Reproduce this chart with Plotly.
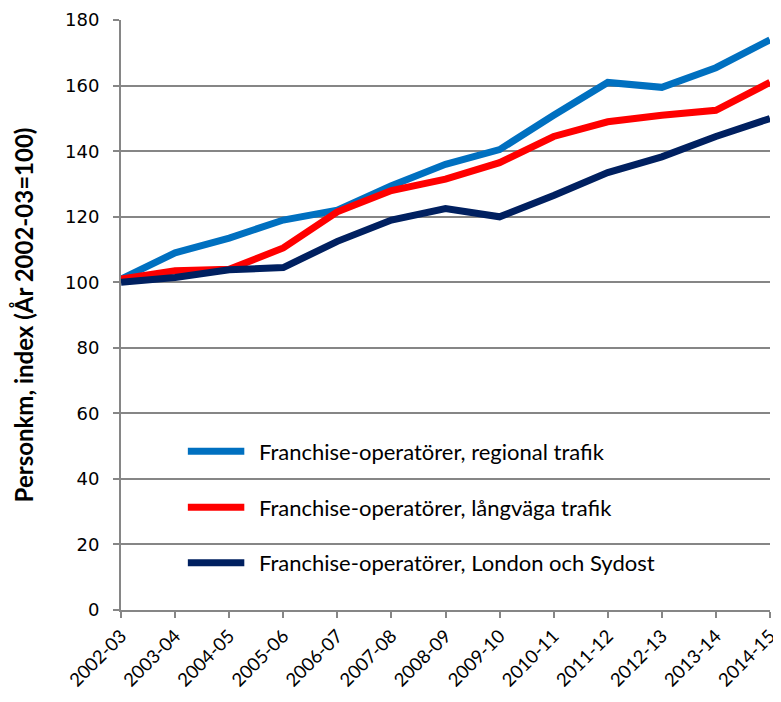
import plotly.graph_objects as go

# カテゴリ（年度）
years = ['2002-03', '2003-04', '2004-05', '2005-06', '2006-07', '2007-08', '2008-09',
         '2009-10', '2010-11', '2011-12', '2012-13', '2013-14', '2014-15']

# 系列データ（指数, 2002-03=100）
regional = [101, 109, 113.5, 119, 122, 129.5, 136, 140.5, 151, 161, 159.5, 165.5, 174]
langvaga = [101, 103.5, 104, 110.5, 121.5, 128, 131.5, 136.5, 144.5, 149, 151, 152.5, 161]
london = [100, 101.5, 103.8, 104.5, 112.5, 119, 122.5, 120, 126.5, 133.5, 138.3, 144.5, 150]

series_names = ['Franchise-operatörer, regional trafik',
                'Franchise-operatörer, långväga trafik',
                'Franchise-operatörer, London och Sydost']
series_values = [regional, langvaga, london]
colors = ['#0070C0', '#FF0000', '#002060']

y_ticks = [0, 20, 40, 60, 80, 100, 120, 140, 160, 180]

txt_font = 'Lato, Liberation Sans, sans-serif'

fig = go.Figure()

for name, vals, col in zip(series_names, series_values, colors):
    fig.add_trace(go.Scatter(
        x=list(range(len(years))), y=vals, mode='lines', name=name,
        line=dict(color=col, width=7), showlegend=False
    ))

# 手作りの凡例
legend_y = [0.269, 0.174, 0.080]
for name, col, ly in zip(series_names, colors, legend_y):
    fig.add_shape(type='line', xref='paper', yref='paper',
                  x0=0.103, x1=0.190, y0=ly, y1=ly,
                  line=dict(color=col, width=7))
    fig.add_annotation(xref='paper', yref='paper', x=0.210, y=ly,
                       text=name, showarrow=False, xanchor='left', yanchor='middle',
                       font=dict(family=txt_font, size=22, color='#000000'))

fig.update_xaxes(
    tickmode='array', tickvals=list(range(len(years))), ticktext=years,
    range=[-0.0005, len(years) - 1 + 0.0005], tickangle=-45,
    showline=True, linecolor='#868686', linewidth=2,
    ticks='outside', ticklen=6, tickcolor='#868686', tickwidth=2,
    showgrid=False, zeroline=False, automargin=False, ticklabeloverflow='allow',
    tickfont=dict(family=txt_font, size=18.5, color='#000000')
)
fig.update_yaxes(
    tickmode='array', tickvals=y_ticks, range=[0, 180.05],
    showline=True, linecolor='#868686', linewidth=2,
    ticks='outside', ticklen=6, tickcolor='#868686', tickwidth=2,
    ticklabelstandoff=10, ticklabeloverflow='allow',
    showgrid=True, gridcolor='#868686', gridwidth=2, zeroline=False,
    automargin=False,
    tickfont=dict(family='DejaVu Sans, Verdana, sans-serif', size=18, color='#000000'),
    title=dict(text='<b>Personkm, index (År 2002-03=100)</b>', standoff=29,
               font=dict(family=txt_font, size=24, color='#000000'))
)

# ページ本体の8pxの余白を差し引いた寸法
fig.update_layout(
    width=773, height=694,
    margin=dict(l=113, r=11, t=12, b=92),
    plot_bgcolor='white', paper_bgcolor='white'
)

fig.write_html('out.html')
